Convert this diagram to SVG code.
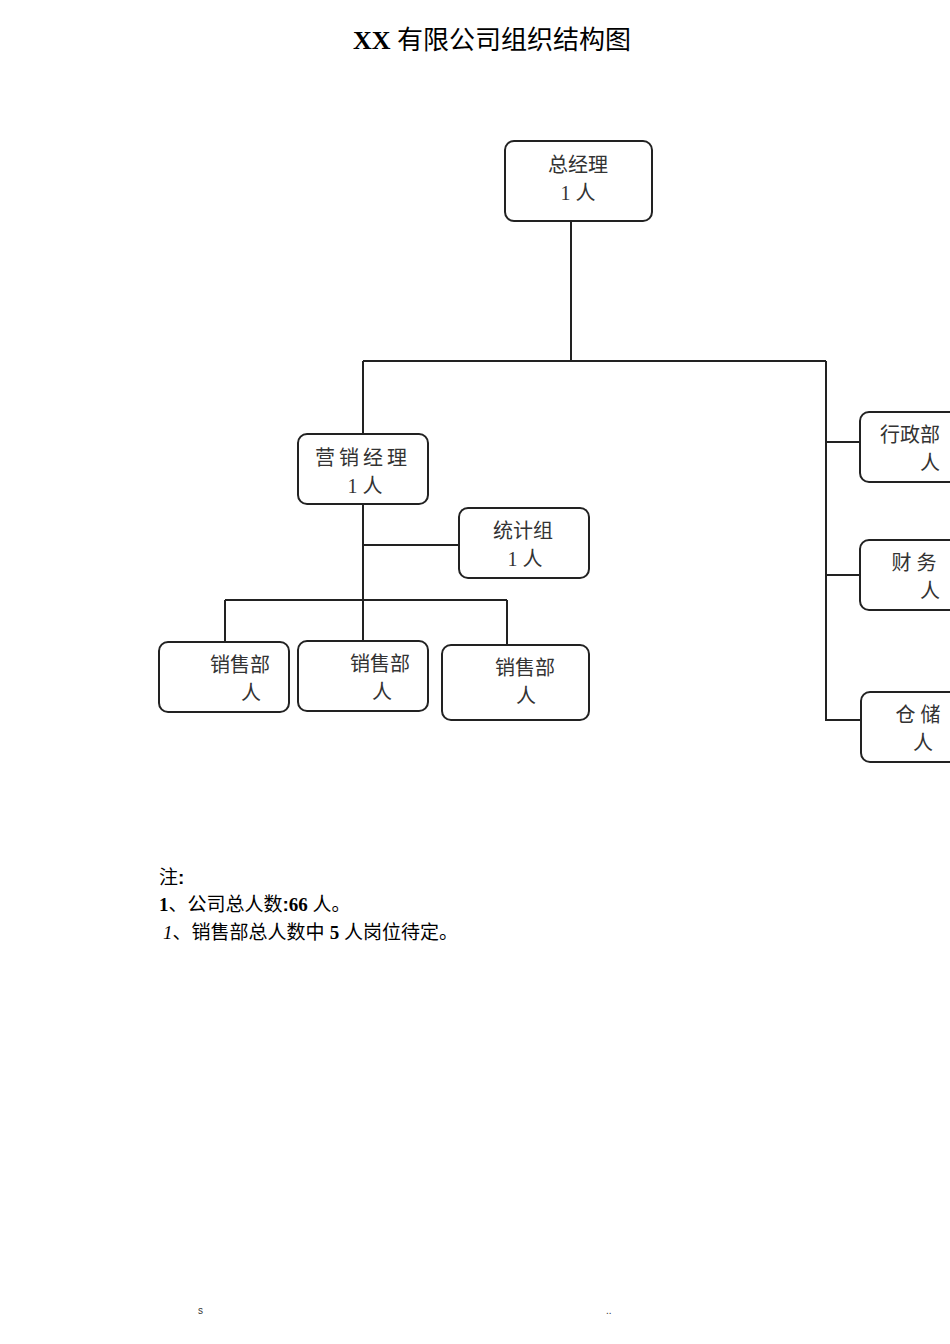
<svg xmlns="http://www.w3.org/2000/svg" width="950" height="1344" viewBox="0 0 950 1344">
<style>
.b{fill:#fff;stroke:#222;stroke-width:2}
.t{font-family:"Liberation Serif","Noto Sans CJK SC",serif;font-size:20px;fill:#333}
.n{font-family:"Liberation Sans","Noto Sans CJK SC",sans-serif;font-size:19px;fill:#000}
.c{stroke:#222;stroke-width:2;fill:none}
</style>
<rect width="950" height="1344" fill="#fff"/>
<text x="492" y="49" text-anchor="middle" font-family="Liberation Serif,'Noto Sans CJK SC',serif" font-size="26" fill="#000"><tspan font-weight="bold">XX</tspan> 有限公司组织结构图</text>
<g id="connectors">
<path class="c" d="M571 222V361M363 361H826M363 361V434M826 361V720H860M826 442H860M826 575H860M363 505V600M363 545H458M225 600H507M225 600V642M363 600V641M507 600V645"/>
</g>
<g id="gm"><rect class="b" x="505" y="141" width="147" height="80" rx="9"/><text class="t" x="578" y="172" text-anchor="middle">总经理</text><text class="t" x="578" y="200" text-anchor="middle">1 人</text></g>
<g id="yx"><rect class="b" x="298" y="434" width="130" height="70" rx="9"/><text class="t" x="363" y="465" text-anchor="middle" letter-spacing="4">营销经理</text><text class="t" x="365" y="493" text-anchor="middle">1 人</text></g>
<g id="tj"><rect class="b" x="459" y="508" width="130" height="70" rx="9"/><text class="t" x="523" y="538" text-anchor="middle" font-size="18">统计组</text><text class="t" x="525" y="566" text-anchor="middle">1 人</text></g>
<g id="xs1"><rect class="b" x="159" y="642" width="130" height="70" rx="9"/><text class="t" x="240" y="672" text-anchor="middle">销售部</text><text class="t" x="251" y="700" text-anchor="middle">人</text></g>
<g id="xs2"><rect class="b" x="298" y="641" width="130" height="70" rx="9"/><text class="t" x="380" y="671" text-anchor="middle">销售部</text><text class="t" x="382" y="699" text-anchor="middle">人</text></g>
<g id="xs3"><rect class="b" x="442" y="645" width="147" height="75" rx="9"/><text class="t" x="525" y="675" text-anchor="middle">销售部</text><text class="t" x="526" y="703" text-anchor="middle">人</text></g>
<g id="xz"><rect class="b" x="860" y="412" width="110" height="70" rx="9"/><text class="t" x="910" y="442" text-anchor="middle">行政部</text><text class="t" x="930" y="470" text-anchor="middle">人</text></g>
<g id="cw"><rect class="b" x="860" y="540" width="110" height="70" rx="9"/><text class="t" x="914" y="570" text-anchor="middle">财 务</text><text class="t" x="930" y="598" text-anchor="middle">人</text></g>
<g id="cc"><rect class="b" x="861" y="692" width="110" height="70" rx="9"/><text class="t" x="918" y="722" text-anchor="middle">仓 储</text><text class="t" x="923" y="750" text-anchor="middle">人</text></g>
<g id="notes">
<text class="n" x="159" y="884">注<tspan font-weight="bold">:</tspan></text>
<text class="n" x="159" y="911"><tspan font-weight="bold" font-family="Liberation Serif">1</tspan>、公司总人数<tspan font-weight="bold">:</tspan><tspan font-weight="bold" font-family="Liberation Serif">66 </tspan>人。</text>
<text class="n" x="163" y="939"><tspan font-style="italic" font-family="Liberation Serif">1</tspan>、销售部总人数中 <tspan font-weight="bold" font-family="Liberation Serif">5 </tspan>人岗位待定。</text>
</g>
<text x="198" y="1314" font-family="Liberation Sans,sans-serif" font-size="10" fill="#333">s</text>
<text x="606" y="1314" font-family="Liberation Sans,sans-serif" font-size="10" fill="#333">..</text>
</svg>
